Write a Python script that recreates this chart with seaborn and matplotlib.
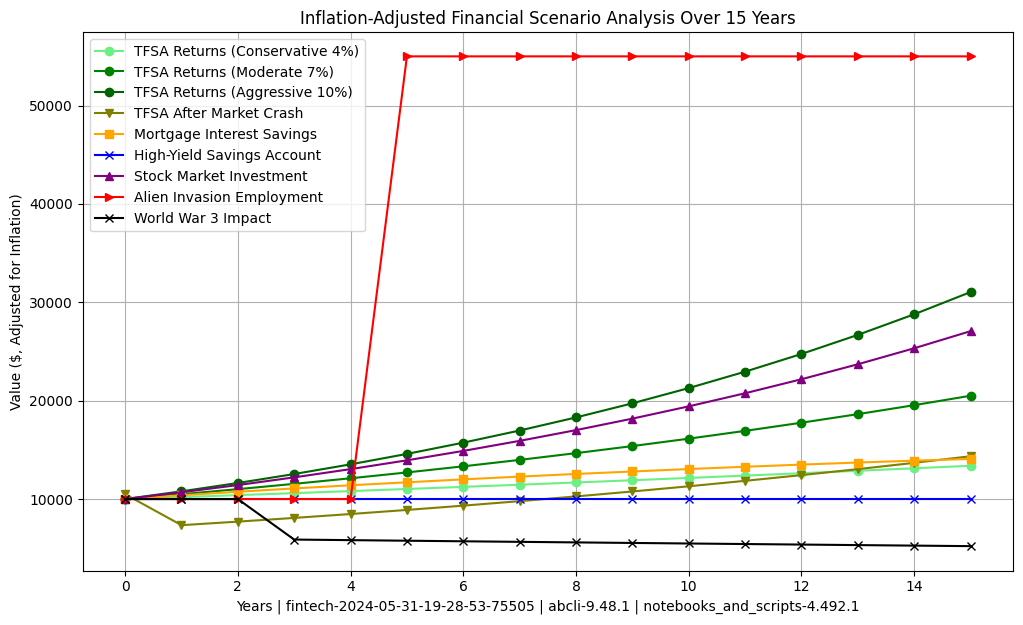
import matplotlib
matplotlib.use("Agg")
import matplotlib.pyplot as plt
import seaborn as sns
import pandas as pd

years = list(range(16))

conservative = [10000, 10196, 10396, 10600, 10808, 11020, 11236, 11456, 11681, 11910,
                12143, 12381, 12624, 12872, 13124, 13381]
moderate = [10000, 10490, 11004, 11544, 12110, 12703, 13326, 13979, 14665, 15383,
            16137, 16929, 17758, 18629, 19542, 20500]
aggressive = [10000, 10784, 11630, 12542, 13526, 14587, 15731, 16965, 18295, 19730,
              21278, 22947, 24746, 26687, 28780, 31038]
crash = [10490, 7343, 7703, 8081, 8477, 8892, 9328, 9785, 10265, 10768,
         11296, 11850, 12431, 13040, 13679, 14350]
mortgage = [10000, 10380, 10740, 11080, 11400, 11700, 12000, 12280, 12550, 12800,
            13050, 13280, 13500, 13710, 13900, 14080]
high_yield = [10000] * 16
stock = [10000, 10686, 11420, 12203, 13041, 13936, 14892, 15914, 17006, 18173,
         19421, 20753, 22178, 23700, 25326, 27064]
alien = [10000, 10000, 10000, 10000, 10000, 55000, 55000, 55000, 55000, 55000,
         55000, 55000, 55000, 55000, 55000, 55000]
ww3 = [10000, 10000, 10000, 5880, 5821, 5763, 5705, 5648, 5592, 5536,
       5481, 5426, 5372, 5318, 5265, 5212]

series = [
    ("TFSA Returns (Conservative 4%)", conservative, "#6cf084", "o"),
    ("TFSA Returns (Moderate 7%)", moderate, "green", "o"),
    ("TFSA Returns (Aggressive 10%)", aggressive, "darkgreen", "o"),
    ("TFSA After Market Crash", crash, "olive", "v"),
    ("Mortgage Interest Savings", mortgage, "orange", "s"),
    ("High-Yield Savings Account", high_yield, "blue", "x"),
    ("Stock Market Investment", stock, "purple", "^"),
    ("Alien Invasion Employment", alien, "red", ">"),
    ("World War 3 Impact", ww3, "black", "x"),
]

fig, ax = plt.subplots(figsize=(10.23, 6.25), dpi=100)
fig.subplots_adjust(left=0.081, right=0.990, top=0.949, bottom=0.087)

for label, vals, color, marker in series:
    df = pd.DataFrame({"Year": years, "Value": vals})
    sns.lineplot(data=df, x="Year", y="Value", ax=ax, color=color, marker=marker,
                 markersize=6, linewidth=1.5, label=label,
                 markeredgecolor=color, markeredgewidth=1.0)

ax.set_title("Inflation-Adjusted Financial Scenario Analysis Over 15 Years", fontsize=12)
ax.set_xlabel("Years | fintech-2024-05-31-19-28-53-75505 | abcli-9.48.1 | notebooks_and_scripts-4.492.1")
ax.set_ylabel("Value ($, Adjusted for Inflation)")
ax.grid(True)
ax.legend(loc="upper left")

fig.savefig("out.png", dpi=100)
